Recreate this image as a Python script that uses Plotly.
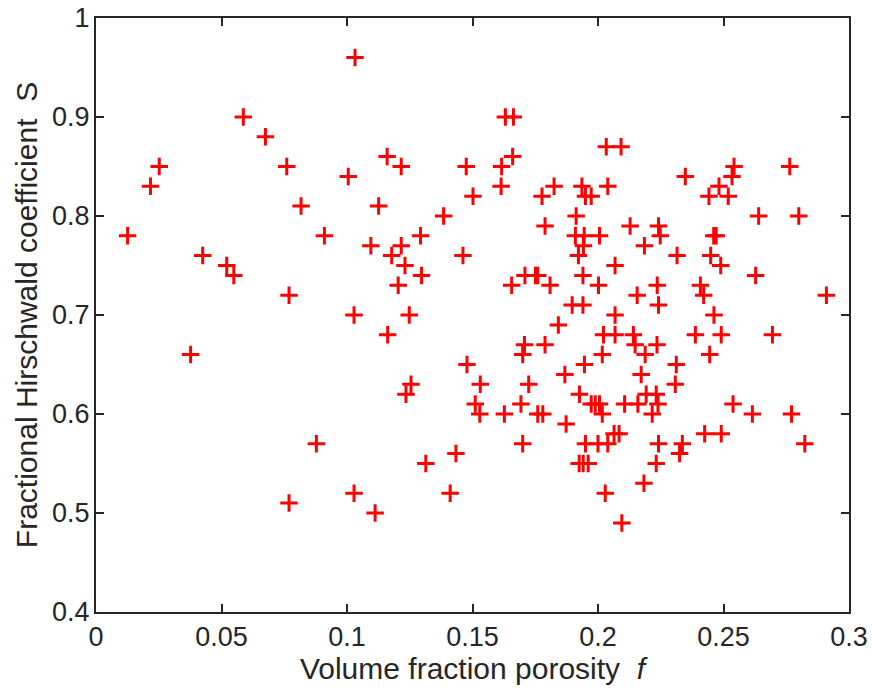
import plotly.graph_objects as go

porosity = [
    0.0126, 0.0217, 0.0252, 0.0377, 0.0425, 0.0521, 0.0549, 0.0587, 0.0675, 0.0760,
    0.0769, 0.0769, 0.0817, 0.0878, 0.0910, 0.1005, 0.1032, 0.1028, 0.1028, 0.1095,
    0.1112, 0.1126, 0.1160, 0.1162, 0.1178, 0.1204, 0.1216, 0.1216, 0.1231, 0.1235,
    0.1248, 0.1255, 0.1293, 0.1297, 0.1314, 0.1385, 0.1411, 0.1434, 0.1462, 0.1475,
    0.1478, 0.1502, 0.1511, 0.1529, 0.1531, 0.1614, 0.1616, 0.1627, 0.1631, 0.1663,
    0.1660, 0.1656, 0.1693, 0.1700, 0.1707, 0.1700, 0.1709, 0.1724, 0.1751, 0.1760,
    0.1760, 0.1780, 0.1777, 0.1789, 0.1789, 0.1809, 0.1825, 0.1842, 0.1873, 0.1868,
    0.1897, 0.1913, 0.1910, 0.1936, 0.1940, 0.1926, 0.1925, 0.1942, 0.1940, 0.1922,
    0.1941, 0.1946, 0.1945, 0.1950, 0.1961, 0.1950, 0.1973, 0.1973, 0.1989, 0.2006,
    0.2002, 0.2006, 0.2000, 0.2017, 0.2022, 0.2017, 0.2029, 0.2033, 0.2039, 0.2039,
    0.2068, 0.2068, 0.2068, 0.2064, 0.2084, 0.2095, 0.2092, 0.2106, 0.2128, 0.2141,
    0.2148, 0.2156, 0.2159, 0.2172, 0.2188, 0.2183, 0.2185, 0.2192, 0.2216, 0.2232,
    0.2235, 0.2236, 0.2239, 0.2232, 0.2241, 0.2241, 0.2248, 0.2241, 0.2308, 0.2312,
    0.2315, 0.2325, 0.2336, 0.2348, 0.2388, 0.2408, 0.2421, 0.2425, 0.2442, 0.2445,
    0.2449, 0.2462, 0.2461, 0.2471, 0.2482, 0.2489, 0.2491, 0.2491, 0.2519, 0.2534,
    0.2542, 0.2538, 0.2615, 0.2628, 0.2640, 0.2695, 0.2764, 0.2771, 0.2800, 0.2824,
    0.2910,
]

hirschwald = [
    0.78, 0.83, 0.85, 0.66, 0.76, 0.75, 0.74, 0.90, 0.88, 0.85,
    0.72, 0.51, 0.81, 0.57, 0.78, 0.84, 0.96, 0.70, 0.52, 0.77,
    0.50, 0.81, 0.86, 0.68, 0.76, 0.73, 0.77, 0.85, 0.75, 0.62,
    0.70, 0.63, 0.78, 0.74, 0.55, 0.80, 0.52, 0.56, 0.76, 0.85,
    0.65, 0.82, 0.61, 0.60, 0.63, 0.83, 0.85, 0.60, 0.90, 0.90,
    0.86, 0.73, 0.61, 0.66, 0.67, 0.57, 0.74, 0.63, 0.74, 0.74,
    0.60, 0.60, 0.82, 0.79, 0.67, 0.73, 0.83, 0.69, 0.59, 0.64,
    0.71, 0.80, 0.78, 0.83, 0.71, 0.62, 0.55, 0.77, 0.74, 0.76,
    0.55, 0.65, 0.78, 0.57, 0.55, 0.82, 0.82, 0.61, 0.61, 0.61,
    0.73, 0.78, 0.57, 0.66, 0.68, 0.60, 0.52, 0.87, 0.83, 0.57,
    0.68, 0.70, 0.75, 0.58, 0.58, 0.49, 0.87, 0.61, 0.79, 0.68,
    0.67, 0.72, 0.61, 0.64, 0.66, 0.53, 0.77, 0.62, 0.60, 0.62,
    0.67, 0.73, 0.61, 0.55, 0.71, 0.79, 0.78, 0.57, 0.63, 0.65,
    0.76, 0.56, 0.57, 0.84, 0.68, 0.73, 0.72, 0.58, 0.82, 0.66,
    0.76, 0.70, 0.78, 0.78, 0.83, 0.75, 0.68, 0.58, 0.82, 0.84,
    0.85, 0.61, 0.60, 0.74, 0.80, 0.68, 0.85, 0.60, 0.80, 0.57,
    0.72,
]

x_tickvals = [0, 0.05, 0.1, 0.15, 0.2, 0.25, 0.3]
x_ticktext = ["0", "0.05", "0.1", "0.15", "0.2", "0.25", "0.3"]
y_tickvals = [0.4, 0.5, 0.6, 0.7, 0.8, 0.9, 1.0]
y_ticktext = ["0.4", "0.5", "0.6", "0.7", "0.8", "0.9", "1"]

AX = "#262626"
FONT = "Liberation Sans, Arial, Helvetica, sans-serif"

fig = go.Figure()
fig.add_trace(go.Scatter(
    x=porosity, y=hirschwald, mode="markers",
    marker=dict(symbol="cross-thin", size=12.5, color="red",
                line=dict(color="red", width=3)),
    showlegend=False, hoverinfo="x+y",
))

axis_common = dict(
    showline=True, linecolor=AX, linewidth=2, mirror="ticks",
    ticks="inside", ticklen=8, tickwidth=2, tickcolor=AX,
    showgrid=False, zeroline=False, automargin=False,
    ticklabeloverflow="allow",
    tickfont=dict(family=FONT, size=27, color=AX),
)

fig.update_layout(
    width=872, height=694,
    margin=dict(l=96, r=23, t=18, b=82),
    paper_bgcolor="white", plot_bgcolor="white",
    font=dict(family=FONT, color=AX),
    xaxis=dict(range=[0, 0.3], tickvals=x_tickvals, ticktext=x_ticktext,
               title=dict(text="Volume fraction porosity  <i>f</i>",
                          font=dict(family=FONT, size=30, color=AX), standoff=0),
               **axis_common),
    yaxis=dict(range=[0.4, 1.0], tickvals=y_tickvals, ticktext=y_ticktext,
               ticklabelstandoff=-1,
               title=dict(text="Fractional Hirschwald coefficient  S",
                          font=dict(family=FONT, size=30, color=AX), standoff=6),
               **axis_common),
)

fig.write_html("out.html",
               config={"displayModeBar": False},
               post_script="document.body.style.margin='0';document.body.style.overflow='hidden';")
